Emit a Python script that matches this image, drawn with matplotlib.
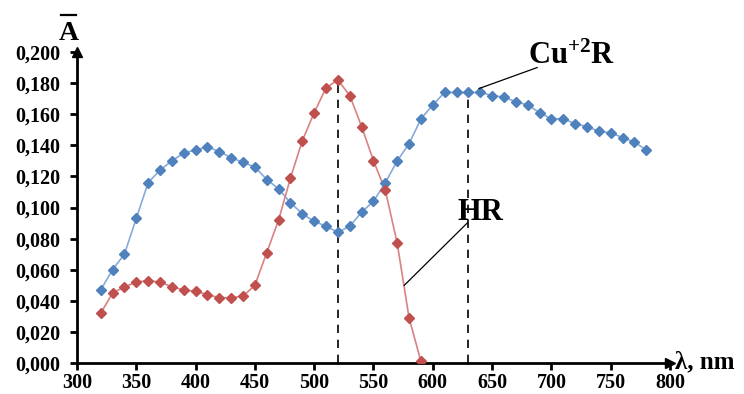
import matplotlib
matplotlib.use("Agg")
import matplotlib.pyplot as plt
from matplotlib.ticker import FuncFormatter, MultipleLocator
from matplotlib.lines import Line2D

plt.rcParams['font.family'] = ['Liberation Serif', 'DejaVu Serif']
plt.rcParams['font.weight'] = 'bold'
plt.rcParams['mathtext.fontset'] = 'custom'
plt.rcParams['mathtext.rm'] = 'Liberation Serif:bold'
plt.rcParams['mathtext.it'] = 'Liberation Serif:bold:italic'
plt.rcParams['mathtext.bf'] = 'Liberation Serif:bold'

# Cu+2R complex spectrum (blue)
wl_cu = [320, 330, 340, 350, 360, 370, 380, 390, 400, 410, 420, 430, 440, 450,
         460, 470, 480, 490, 500, 510, 520, 530, 540, 550, 560, 570, 580, 590,
         600, 610, 620, 630, 640, 650, 660, 670, 680, 690, 700, 710, 720, 730,
         740, 750, 760, 770, 780]
abs_cu = [0.047, 0.060, 0.070, 0.093, 0.116, 0.124, 0.130, 0.135, 0.137, 0.139,
          0.136, 0.132, 0.129, 0.126, 0.118, 0.112, 0.103, 0.096, 0.091, 0.088,
          0.084, 0.088, 0.097, 0.104, 0.116, 0.130, 0.141, 0.157, 0.166, 0.174,
          0.174, 0.174, 0.174, 0.172, 0.171, 0.168, 0.166, 0.161, 0.157, 0.157,
          0.154, 0.152, 0.149, 0.148, 0.145, 0.142, 0.137]

# HR reagent spectrum (red)
wl_hr = [320, 330, 340, 350, 360, 370, 380, 390, 400, 410, 420, 430, 440, 450,
         460, 470, 480, 490, 500, 510, 520, 530, 540, 550, 560, 570, 580, 590]
abs_hr = [0.032, 0.045, 0.049, 0.052, 0.053, 0.052, 0.049, 0.047, 0.046, 0.044,
          0.042, 0.042, 0.043, 0.050, 0.071, 0.092, 0.119, 0.143, 0.161, 0.177,
          0.182, 0.172, 0.152, 0.130, 0.111, 0.077, 0.029, 0.001]

peak_hr = (520, 0.182)
peak_cu = (630, 0.174)

x_ticks = [300, 350, 400, 450, 500, 550, 600, 650, 700, 750, 800]

blue = '#4F81BD'
red = '#C0504D'

fig = plt.figure(figsize=(7.44, 3.94), dpi=100)
ax = fig.add_axes([77/744, 31/394, (670-77)/744, (363-52)/394])

ax.plot(wl_cu, abs_cu, color='#86AADA', lw=1.2, zorder=2)
ax.plot(wl_cu, abs_cu, ls='none', marker='D', ms=5.5, color=blue, zorder=3)
ax.plot(wl_hr, abs_hr, color='#D98280', lw=1.2, zorder=2)
ax.plot(wl_hr, abs_hr, ls='none', marker='D', ms=5.5, color=red, zorder=3)

ax.plot([peak_hr[0], peak_hr[0]], [0, peak_hr[1]], ls=(0, (5, 4)), color='black', lw=1.2, zorder=1)
ax.plot([peak_cu[0], peak_cu[0]], [0, peak_cu[1]], ls=(0, (5, 4)), color='black', lw=1.2, zorder=1)

ax.set_xlim(300, 800)
ax.set_ylim(0, 0.2)
ax.set_xticks(x_ticks)
ax.yaxis.set_major_locator(MultipleLocator(0.02))
ax.yaxis.set_major_formatter(FuncFormatter(lambda v, p: f"{v:.3f}".replace('.', ',')))

for s in ['top', 'right']:
    ax.spines[s].set_visible(False)
for s in ['left', 'bottom']:
    ax.spines[s].set_linewidth(2.0)
ax.tick_params(axis='both', direction='out', length=5, width=2, labelsize=14.5)
ax.tick_params(axis='x', pad=2.5)
ax.tick_params(axis='y', pad=7)
for lab in ax.get_xticklabels() + ax.get_yticklabels():
    lab.set_fontweight('bold')

# axis arrows
ax.plot(1, 0, marker='>', color='black', ms=7, transform=ax.transAxes, clip_on=False)
ax.plot(0, 1, marker='^', color='black', ms=7, transform=ax.transAxes, clip_on=False)

# axis titles
fig.text(69/744, 1 - 33/394, 'A', fontsize=20, fontweight='bold', ha='center', va='center')
fig.add_artist(Line2D([61/744, 76/744], [1 - 15/394, 1 - 15/394], color='black', lw=1.6))
fig.text(675/744, 1 - 362/394, 'λ, nm', fontsize=18, fontweight='bold', ha='left', va='center')

# annotations
ax.text(717, 0.197, 'Cu$^{+2}$R', fontsize=22, fontweight='bold', ha='center', va='center')
ax.plot([688, 639], [0.190, 0.1765], color='black', lw=0.9, zorder=4)
ax.text(640, 0.097, 'HR', fontsize=22, fontweight='bold', ha='center', va='center')
ax.plot([629, 576], [0.090, 0.050], color='black', lw=0.9, zorder=4)

fig.savefig('out.png', dpi=100)
